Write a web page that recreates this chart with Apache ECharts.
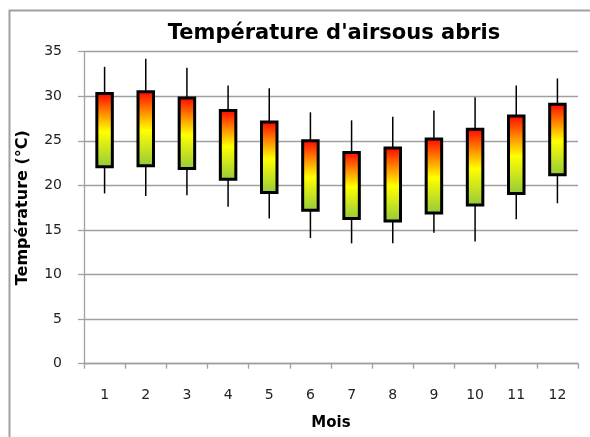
<!DOCTYPE html>
<html>
<head>
<meta charset="utf-8">
<script src="https://cdn.jsdelivr.net/npm/echarts@6/dist/echarts.min.js"></script>
<style>html,body{margin:0;padding:0;background:#fff}#c{width:590px;height:437px}</style>
</head>
<body>
<div id="c"></div>
<script>
var months = ['1','2','3','4','5','6','7','8','9','10','11','12'];
var whiskerMax = [33.3, 34.2, 33.2, 31.2, 30.9, 28.2, 27.3, 27.7, 28.4, 29.9, 31.2, 32.0];
var boxTop     = [30.3, 30.5, 29.8, 28.4, 27.1, 25.0, 23.7, 24.2, 25.2, 26.3, 27.8, 29.1];
var boxBottom  = [22.1, 22.2, 21.9, 20.7, 19.2, 17.2, 16.3, 16.0, 16.9, 17.8, 19.1, 21.2];
var whiskerMin = [19.1, 18.8, 18.9, 17.6, 16.3, 14.1, 13.5, 13.5, 14.7, 13.7, 16.2, 18.0];
var yTicks = [0, 5, 10, 15, 20, 25, 30, 35];

var data = months.map(function (m, i) {
  return [i, whiskerMin[i], boxBottom[i], boxTop[i], whiskerMax[i]];
});

var chart = echarts.init(document.getElementById('c'));
var gridLine = '#a0a0a0';
chart.setOption({
  animation: false,
  backgroundColor: '#fff',
  graphic: [{
    type: 'rect', left: 7, top: 8, silent: true,
    shape: { width: 600, height: 440 },
    style: { fill: 'none', stroke: '#a0a0a0', lineWidth: 2 }
  }],
  title: {
    text: "Température d'airsous abris",
    left: 329, top: 18, textAlign: 'center',
    textStyle: { fontFamily: 'DejaVu Sans', fontWeight: 'bold', fontSize: 21, color: '#000' }
  },
  grid: { left: 84, right: 12, top: 51.7, bottom: 73.3 },
  xAxis: {
    type: 'category', data: months,
    name: 'Mois', nameLocation: 'middle', nameGap: 52,
    nameTextStyle: { fontFamily: 'DejaVu Sans', fontWeight: 'bold', fontSize: 15, color: '#000' },
    axisLine: { lineStyle: { color: gridLine, width: 1.3 } },
    axisTick: { show: true, length: 5, lineStyle: { color: gridLine, width: 1.3 } },
    axisLabel: { margin: 25, fontFamily: 'DejaVu Sans', fontSize: 14, color: '#222' }
  },
  yAxis: {
    type: 'value', min: 0, max: 35, interval: 5,
    name: 'Température (°C)', nameLocation: 'middle', nameGap: 53, nameRotate: 90,
    nameTextStyle: { fontFamily: 'DejaVu Sans', fontWeight: 'bold', fontSize: 16, color: '#000' },
    axisLine: { show: true, lineStyle: { color: gridLine, width: 1.3 } },
    axisTick: { show: true, length: 6, lineStyle: { color: gridLine, width: 1.3 } },
    splitLine: { lineStyle: { color: gridLine, width: 1.3 } },
    axisLabel: {
      margin: 22, fontFamily: 'DejaVu Sans', fontSize: 14, color: '#222',
      formatter: function (v) { return yTicks.indexOf(v) >= 0 ? String(v) : ''; }
    }
  },
  series: [{
    type: 'custom',
    data: data,
    encode: { x: 0, y: [1, 2, 3, 4] },
    renderItem: function (params, api) {
      var i = api.value(0);
      var pMin = api.coord([i, api.value(1)]);
      var pLow = api.coord([i, api.value(2)]);
      var pHigh = api.coord([i, api.value(3)]);
      var pMax = api.coord([i, api.value(4)]);
      var w = 15.5;
      var x = pLow[0];
      return {
        type: 'group',
        children: [
          { type: 'line', shape: { x1: x, y1: pMax[1], x2: x, y2: pHigh[1] },
            style: { stroke: '#000', lineWidth: 1.5 } },
          { type: 'line', shape: { x1: x, y1: pLow[1], x2: x, y2: pMin[1] },
            style: { stroke: '#000', lineWidth: 1.5 } },
          { type: 'rect',
            shape: { x: x - w / 2, y: pHigh[1], width: w, height: pLow[1] - pHigh[1] },
            style: {
              fill: new echarts.graphic.LinearGradient(0, 0, 0, 1, [
                { offset: 0, color: '#ff0000' },
                { offset: 0.28, color: '#ff8c00' },
                { offset: 0.52, color: '#ffff00' },
                { offset: 1, color: '#92c83e' }
              ]),
              stroke: '#000', lineWidth: 3
            } }
        ]
      };
    }
  }]
});
</script>
</body>
</html>
